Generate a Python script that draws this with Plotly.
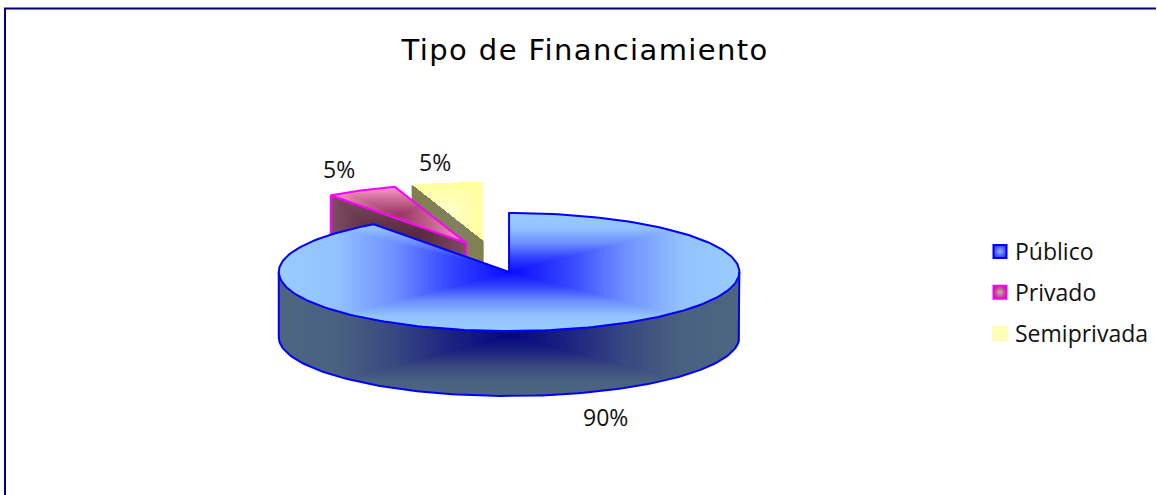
import numpy as np
import plotly.graph_objects as go

categories = ["Público", "Privado", "Semiprivada"]
values = [90, 5, 5]
title_text = "Tipo de Financiamiento"
edge_colors = ["#0000FF", "#FF00FF", None]
top_colors = [
    [[0, "#0A0AFF"], [0.25, "#3344FF"], [0.5, "#6F90FF"], [0.75, "#93C2FF"], [1, "#99CCFF"]],
    [[0, "#993366"], [0.5, "#C4668F"], [1, "#FF99CC"]],
    [[0, "#FFFFCC"], [1, "#FFFF99"]],
]
swatch_edges = ["#8FB5FF", "#E8A0C8", "#FFFFA6"]
swatch_centres = ["#3040FF", "#A03A70", "#FFFFCC"]

CX, CY, RX, RY, DEPTH = 509.5, 272.0, 230.5, 59.0, 65.0
OFFSETS = [(0, 0), (-43, -29), (-26, -31)]
LABEL_POS = [(606, 417), (339, 169), (435, 162)]

W, H = 1157, 495
px = np.arange(W) + 0.5
py = np.arange(H) + 0.5
GX, GY = np.meshgrid(px, py)

total = sum(values)
bounds = np.cumsum([0] + values) / total * 360.0


def rim(theta, dx=0.0, dy=0.0):
    t = np.radians(theta)
    return CX + dx + RX * np.sin(t), CY + dy - RY * np.cos(t)


def shade(scale, f):
    out = []
    for pos, c in scale:
        r, g, b = int(c[1:3], 16), int(c[3:5], 16), int(c[5:7], 16)
        out.append([pos, f"rgb({r*f:.0f},{g*f:.0f},{b*f:.0f})"])
    return out


def face(mask, scale):
    """Paint a face with a rectangular path gradient centred on its bounding box."""
    ys, xs = np.where(mask)
    x0, x1, y0, y1 = xs.min(), xs.max() + 1, ys.min(), ys.max() + 1
    mx, my = (x0 + x1) / 2, (y0 + y1) / 2
    hw, hh = max((x1 - x0) / 2, 1), max((y1 - y0) / 2, 1)
    sub_x, sub_y = GX[y0:y1, x0:x1], GY[y0:y1, x0:x1]
    z = np.maximum(np.abs(sub_x - mx) / hw, np.abs(sub_y - my) / hh)
    z = np.where(mask[y0:y1, x0:x1], z, np.nan)
    return go.Heatmap(x=px[x0:x1], y=py[y0:y1], z=z, zmin=0, zmax=1, colorscale=scale,
                      showscale=False, hoverinfo="skip", showlegend=False, zsmooth=False)


def outline(xs, ys, color):
    return go.Scatter(x=xs, y=ys, mode="lines", line=dict(color=color, width=2),
                      hoverinfo="skip", showlegend=False)


def top_mask(a0, a1, dx, dy):
    u = (GX - CX - dx) / RX
    v = (CY + dy - GY) / RY
    ang = np.degrees(np.arctan2(u, v)) % 360
    return (u * u + v * v <= 1) & (ang >= a0) & (ang <= a1)


def cut_mask(a, dx, dy):
    ox, oy = rim(a, dx, dy)
    ax, ay = CX + dx, CY + dy
    yline = oy + (GX - ox) * (ay - oy) / (ax - ox)
    return (GX >= min(ox, ax)) & (GX <= max(ox, ax)) & (GY >= yline) & (GY <= yline + DEPTH)


def large_slice_edge(x):
    """Screen y at which the top of the big slice starts hiding what lies behind it."""
    tip_x, tip_y = rim(bounds[1])
    if x >= tip_x:
        return CY - (CX - x) * (CY - tip_y) / (CX - tip_x)
    return CY - RY * np.sqrt(max(1 - ((x - CX) / RX) ** 2, 0))


fig = go.Figure()

# wedges back to front: the exploded small slices sit behind the large one
for i in (2, 1):
    a0, a1 = bounds[i], bounds[i + 1]
    dx, dy = OFFSETS[i]
    fig.add_trace(face(cut_mask(a0, dx, dy), shade(top_colors[i], 0.5)))
    fig.add_trace(face(top_mask(a0, a1, dx, dy), top_colors[i]))
    if edge_colors[i]:
        th = np.linspace(a0, a1, 30)
        ox, oy = rim(a0, dx, dy)
        ax, ay = CX + dx, CY + dy
        rx_, ry_ = rim(th, dx, dy)
        fig.add_trace(outline(
            [ox, ox, None, ax, ax, None] + [ax] + list(rx_) + [ax],
            [oy, large_slice_edge(ox), None, ay, large_slice_edge(ax), None] + [ay] + list(ry_) + [ay],
            edge_colors[i]))

# large slice: front wall, then top
a0, a1 = bounds[0], bounds[1]
u = (GX - CX) / RX
rim_low = CY + RY * np.sqrt(np.clip(1 - u * u, 0, 1))
wall = (np.abs(u) <= 1) & (GY >= rim_low - 1) & (GY <= rim_low + DEPTH)
fig.add_trace(face(wall, shade(top_colors[0], 0.5)))
th = np.linspace(90, 270, 120)
wx, wy = rim(th)
fig.add_trace(outline([wx[0], wx[0]] + list(wx) + [wx[-1]],
                      [wy[0], wy[0] + DEPTH] + list(wy + DEPTH) + [wy[-1]],
                      edge_colors[0]))
fig.add_trace(face(top_mask(a0, a1, 0, 0), top_colors[0]))
th = np.linspace(a0, a1, 240)
tx, ty = rim(th)
fig.add_trace(outline([CX] + list(tx) + [CX], [CY] + list(ty) + [CY], edge_colors[0]))

# legend entries
for name, fill, centre, edge in zip(categories, swatch_edges, swatch_centres, edge_colors):
    fig.add_trace(go.Scatter(
        x=[None], y=[None], mode="markers", name=name, legendgroup=name,
        marker=dict(symbol="square", size=13, color=centre,
                    gradient=dict(type="radial", color=fill),
                    line=dict(color=edge or fill, width=2)),
    ))

annotations = [
    dict(x=x, y=y, text=f"{round(v / total * 100)}%", showarrow=False, xref="x", yref="y",
         font=dict(family="Open Sans", size=23, color="#111111"))
    for v, (x, y) in zip(values, LABEL_POS)
]
annotations.append(dict(x=585, y=50, text=title_text, showarrow=False, xref="x", yref="y",
                        font=dict(family="DejaVu Sans", size=29, color="#000000")))

fig.update_layout(
    width=W, height=H, margin=dict(l=0, r=0, t=0, b=0),
    paper_bgcolor="white", plot_bgcolor="white",
    xaxis=dict(range=[0, W], visible=False, fixedrange=True),
    yaxis=dict(range=[H, 0], visible=False, fixedrange=True),
    annotations=annotations,
    legend=dict(x=979 / W, y=1 - 230 / H, xanchor="left", yanchor="top",
                font=dict(family="Open Sans", size=23, color="#111111"),
                tracegroupgap=8, bgcolor="rgba(0,0,0,0)"),
    shapes=[
        dict(type="line", xref="paper", yref="paper", x0=5 / W, x1=5 / W, y0=0, y1=1 - 8 / H,
             line=dict(color="#000080", width=2)),
        dict(type="line", xref="paper", yref="paper", x0=4 / W, x1=1, y0=1 - 8.5 / H, y1=1 - 8.5 / H,
             line=dict(color="#000080", width=2)),
    ],
)

# The original's type is letter-spaced; plotly has no option for that, so it is set on the finished SVG.
# The legend is nudged here too: placing it further right through layout makes plotly shrink the plot area.
post = """
document.body.style.margin='0';
document.querySelectorAll('.annotation-text').forEach(function(t){
  if (t.textContent.indexOf('Tipo') === 0) { t.style.letterSpacing = '1.4px'; }
});
document.querySelectorAll('.legendtext').forEach(function(t){ t.setAttribute('x', '35'); });
var lg = document.querySelector('.legend');
lg.setAttribute('transform', lg.getAttribute('transform').replace(/translate\\(([-0-9.]+)/, function(m, v){ return 'translate(' + (parseFloat(v) + 2); }));
"""
fig.write_html("out.html", config={"displayModeBar": False}, post_script=post)
